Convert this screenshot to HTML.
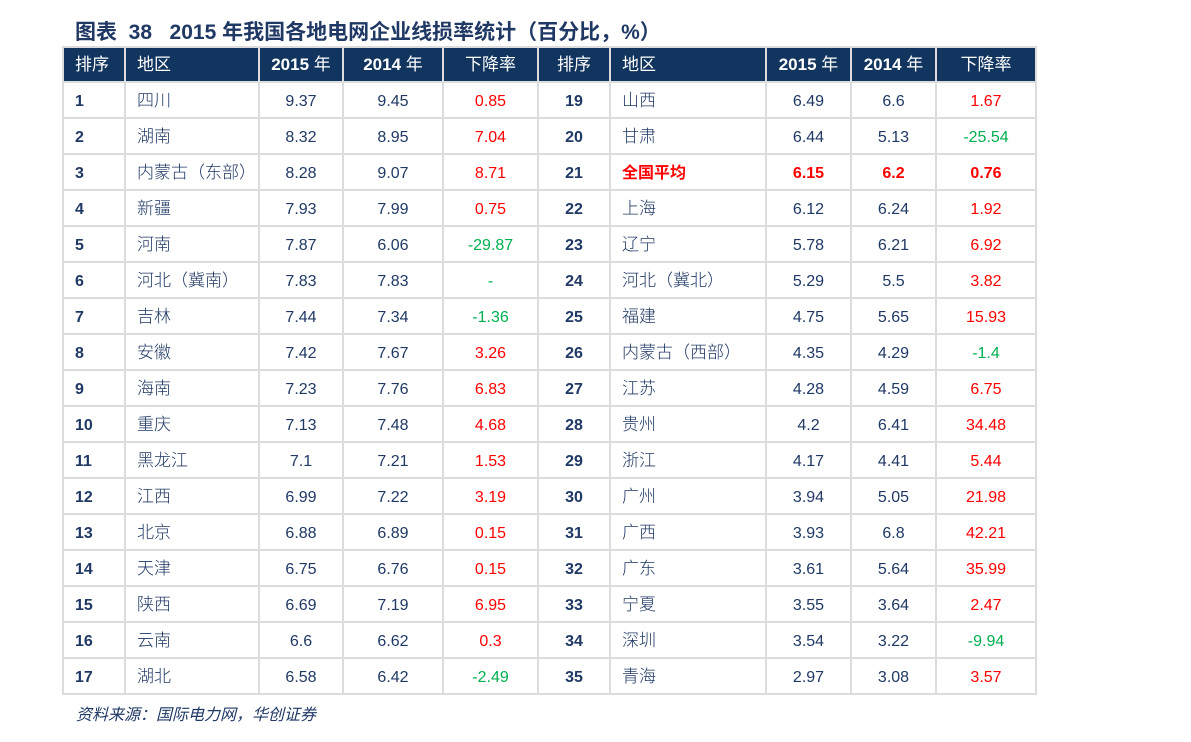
<!DOCTYPE html>
<html><head><meta charset="utf-8"><style>
body{margin:0;width:1191px;height:742px;background:#fff;position:relative;font-family:"Liberation Sans","Noto Sans CJK SC",sans-serif;overflow:hidden}
.title{position:absolute;left:75px;top:16px;font-size:21px;font-weight:bold;color:#1f3864;white-space:nowrap}
table{position:absolute;left:62px;top:46px;border-collapse:collapse;table-layout:fixed}
td{border:2px solid #dcdcdc;height:34px;padding:4px 0 0 0;box-sizing:border-box;font-size:16px;line-height:20px;color:#1f3864;text-align:center;white-space:nowrap;vertical-align:middle}
tr td{height:36px}
tr.h td{background:#12355f;color:#fff;height:35px;font-size:17px;padding-top:0}
td.l{text-align:left;padding-left:11px}
td.rk{font-weight:bold}
td.n{font-family:"Noto Sans CJK SC",sans-serif;font-size:17px;font-weight:300;padding-top:0;padding-bottom:2px}
.r{color:#ff0000}.g{color:#00b050}
.b{color:#ff0000;font-weight:bold}
.src{position:absolute;left:76px;top:701px;font-size:16px;font-style:italic;color:#1f3864}
</style></head><body>
<div class="title">图表&nbsp; 38 &nbsp; 2015 年我国各地电网企业线损率统计（百分比，%）</div>
<table>
<colgroup><col style="width:62px"><col style="width:134px"><col style="width:84px"><col style="width:100px"><col style="width:95px"><col style="width:72px"><col style="width:156px"><col style="width:85px"><col style="width:85px"><col style="width:100px"></colgroup>
<tr class="h"><td class="l">排序</td><td class="l">地区</td><td><b>2015</b> 年</td><td><b>2014</b> 年</td><td>下降率</td><td>排序</td><td class="l">地区</td><td><b>2015</b> 年</td><td><b>2014</b> 年</td><td>下降率</td></tr>
<tr><td class="l rk">1</td><td class="l n">四川</td><td>9.37</td><td>9.45</td><td class="r">0.85</td><td class="rk">19</td><td class="l n">山西</td><td>6.49</td><td>6.6</td><td class="r">1.67</td></tr>
<tr><td class="l rk">2</td><td class="l n">湖南</td><td>8.32</td><td>8.95</td><td class="r">7.04</td><td class="rk">20</td><td class="l n">甘肃</td><td>6.44</td><td>5.13</td><td class="g">-25.54</td></tr>
<tr><td class="l rk">3</td><td class="l n">内蒙古（东部）</td><td>8.28</td><td>9.07</td><td class="r">8.71</td><td class="rk">21</td><td class="l b">全国平均</td><td class="b">6.15</td><td class="b">6.2</td><td class="b">0.76</td></tr>
<tr><td class="l rk">4</td><td class="l n">新疆</td><td>7.93</td><td>7.99</td><td class="r">0.75</td><td class="rk">22</td><td class="l n">上海</td><td>6.12</td><td>6.24</td><td class="r">1.92</td></tr>
<tr><td class="l rk">5</td><td class="l n">河南</td><td>7.87</td><td>6.06</td><td class="g">-29.87</td><td class="rk">23</td><td class="l n">辽宁</td><td>5.78</td><td>6.21</td><td class="r">6.92</td></tr>
<tr><td class="l rk">6</td><td class="l n">河北（冀南）</td><td>7.83</td><td>7.83</td><td class="g">-</td><td class="rk">24</td><td class="l n">河北（冀北）</td><td>5.29</td><td>5.5</td><td class="r">3.82</td></tr>
<tr><td class="l rk">7</td><td class="l n">吉林</td><td>7.44</td><td>7.34</td><td class="g">-1.36</td><td class="rk">25</td><td class="l n">福建</td><td>4.75</td><td>5.65</td><td class="r">15.93</td></tr>
<tr><td class="l rk">8</td><td class="l n">安徽</td><td>7.42</td><td>7.67</td><td class="r">3.26</td><td class="rk">26</td><td class="l n">内蒙古（西部）</td><td>4.35</td><td>4.29</td><td class="g">-1.4</td></tr>
<tr><td class="l rk">9</td><td class="l n">海南</td><td>7.23</td><td>7.76</td><td class="r">6.83</td><td class="rk">27</td><td class="l n">江苏</td><td>4.28</td><td>4.59</td><td class="r">6.75</td></tr>
<tr><td class="l rk">10</td><td class="l n">重庆</td><td>7.13</td><td>7.48</td><td class="r">4.68</td><td class="rk">28</td><td class="l n">贵州</td><td>4.2</td><td>6.41</td><td class="r">34.48</td></tr>
<tr><td class="l rk">11</td><td class="l n">黑龙江</td><td>7.1</td><td>7.21</td><td class="r">1.53</td><td class="rk">29</td><td class="l n">浙江</td><td>4.17</td><td>4.41</td><td class="r">5.44</td></tr>
<tr><td class="l rk">12</td><td class="l n">江西</td><td>6.99</td><td>7.22</td><td class="r">3.19</td><td class="rk">30</td><td class="l n">广州</td><td>3.94</td><td>5.05</td><td class="r">21.98</td></tr>
<tr><td class="l rk">13</td><td class="l n">北京</td><td>6.88</td><td>6.89</td><td class="r">0.15</td><td class="rk">31</td><td class="l n">广西</td><td>3.93</td><td>6.8</td><td class="r">42.21</td></tr>
<tr><td class="l rk">14</td><td class="l n">天津</td><td>6.75</td><td>6.76</td><td class="r">0.15</td><td class="rk">32</td><td class="l n">广东</td><td>3.61</td><td>5.64</td><td class="r">35.99</td></tr>
<tr><td class="l rk">15</td><td class="l n">陕西</td><td>6.69</td><td>7.19</td><td class="r">6.95</td><td class="rk">33</td><td class="l n">宁夏</td><td>3.55</td><td>3.64</td><td class="r">2.47</td></tr>
<tr><td class="l rk">16</td><td class="l n">云南</td><td>6.6</td><td>6.62</td><td class="r">0.3</td><td class="rk">34</td><td class="l n">深圳</td><td>3.54</td><td>3.22</td><td class="g">-9.94</td></tr>
<tr><td class="l rk">17</td><td class="l n">湖北</td><td>6.58</td><td>6.42</td><td class="g">-2.49</td><td class="rk">35</td><td class="l n">青海</td><td>2.97</td><td>3.08</td><td class="r">3.57</td></tr>
</table>
<div class="src">资料来源：国际电力网，华创证券</div>
</body></html>
